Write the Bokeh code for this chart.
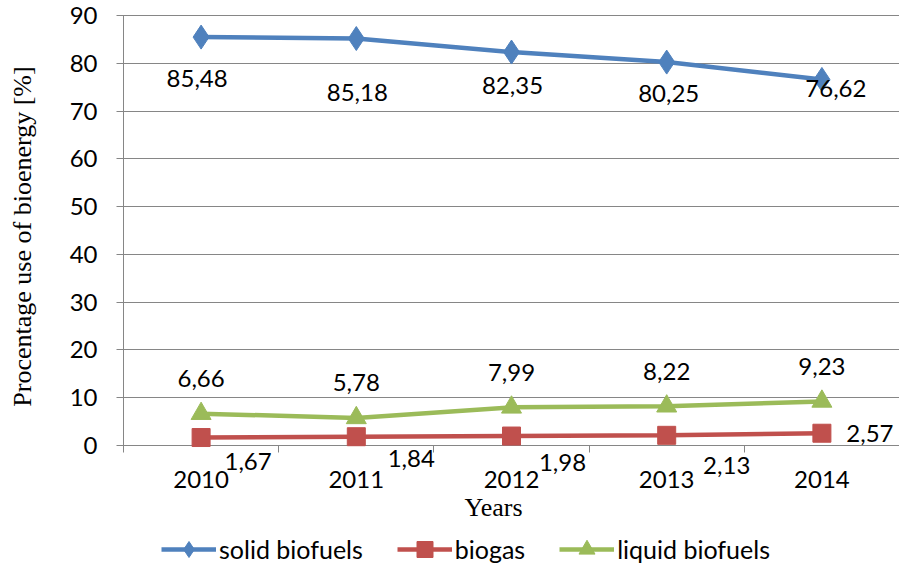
import math
from bokeh.plotting import figure
from bokeh.models import (Range1d, FixedTicker, Legend, LegendItem, ColumnDataSource, Label)
from bokeh.embed import file_html
from bokeh.resources import INLINE
from bokeh.core.properties import value

years = ["2010", "2011", "2012", "2013", "2014"]
solid = [85.48, 85.18, 82.35, 80.25, 76.62]
biogas = [1.67, 1.84, 1.98, 2.13, 2.57]
liquid = [6.66, 5.78, 7.99, 8.22, 9.23]
y_ticks = list(range(0, 91, 10))

def fmt(v):
    return f"{v:.2f}".replace(".", ",")

xs = list(range(len(years)))

BLUE = "#4F81BD"
RED = "#C0504D"
GREY = "#868686"
GREEN = "#9BBB59"
SANS = "Lato"
SERIF = "Liberation Serif"

# layout (pixels): the plotting frame covers the whole canvas; the value axes
# are pinned at the category/value origin so that titles and legend fit around them
W, H = 899, 566
LEFT, TOP, AXIS_PX, RIGHT = 123, 15, 445, 899
X0, X1 = -0.5, len(years) - 0.5
Y0, Y1 = 0, 90
px_per_x = (RIGHT - LEFT) / (X1 - X0)
px_per_y = (AXIS_PX - TOP) / (Y1 - Y0)
x_start = X0 - LEFT / px_per_x
x_end = X1 + (W - RIGHT) / px_per_x
y_start = Y0 - (H - AXIS_PX) / px_per_y
y_end = Y1 + TOP / px_per_y

p = figure(width=W, height=H, output_backend="svg", toolbar_location=None,
           x_range=Range1d(x_start, x_end), y_range=Range1d(y_start, y_end),
           min_border_left=0, min_border_top=0, min_border_right=0,
           min_border_bottom=0)
p.outline_line_color = None
p.background_fill_color = "white"
p.border_fill_color = "white"
p.grid.grid_line_color = None

# y axis (its inward ticks act as the horizontal gridlines)
p.yaxis.fixed_location = X0
p.yaxis.level = "underlay"
p.yaxis.ticker = FixedTicker(ticks=y_ticks)
p.yaxis.bounds = (Y0, Y1)
p.yaxis.axis_line_color = GREY
p.yaxis.major_tick_line_color = GREY
p.yaxis.major_tick_out = 7
p.yaxis.major_tick_in = RIGHT - LEFT
p.yaxis.minor_tick_line_color = None
p.yaxis.major_label_text_font = SANS
p.yaxis.major_label_text_font_size = "24px"
p.yaxis.major_label_text_color = "black"
p.yaxis.major_label_standoff = 19

# x axis (ticks between the categories)
p.xaxis.fixed_location = Y0
p.xaxis.level = "underlay"
p.xaxis.bounds = (X0, X1)
p.xaxis.ticker = FixedTicker(ticks=xs, minor_ticks=[i - 0.5 for i in range(len(years) + 1)])
p.xaxis.major_label_overrides = {i: y for i, y in enumerate(years)}
p.xaxis.axis_line_color = GREY
p.xaxis.major_tick_line_color = None
p.xaxis.major_tick_out = 0
p.xaxis.major_tick_in = 0
p.xaxis.minor_tick_line_color = GREY
p.xaxis.minor_tick_out = 7
p.xaxis.minor_tick_in = 0
p.xaxis.major_label_text_font = SANS
p.xaxis.major_label_text_font_size = "24px"
p.xaxis.major_label_text_color = "black"
p.xaxis.major_label_standoff = 18

# axis titles
p.add_layout(Label(x=22, y=H - 236, x_units="screen", y_units="screen",
                   text="Procentage use of bioenergy [%]", angle=math.pi / 2,
                   text_font=SERIF, text_font_size="26px", text_color="black",
                   text_align="center", text_baseline="middle"))
p.add_layout(Label(x=493, y=H - 507, x_units="screen", y_units="screen",
                   text="Years", text_font=SERIF, text_font_size="26px",
                   text_color="black", text_align="center", text_baseline="middle"))

# series
l1 = p.line(xs, solid, line_color=BLUE, line_width=4.5)
m1 = p.scatter(xs, solid, marker="diamond", size=24, fill_color=BLUE, line_color=BLUE)
l2 = p.line(xs, biogas, line_color=RED, line_width=4.5)
m2 = p.scatter(xs, biogas, marker="square", size=18, fill_color=RED, line_color=RED)
l3 = p.line(xs, liquid, line_color=GREEN, line_width=4.5)
m3 = p.scatter(xs, liquid, marker="triangle", size=20, fill_color=GREEN, line_color=GREEN)

# data labels (label placement offsets, in pixels)
solid_dx = [-4, 1, 1, 2, 14]
solid_dy = [41, 54, 33, 31, 9]
bio_dx = [47, 55, 51, 60, 48]
bio_dy = [24, 22, 26, 30, 0]

s_src = ColumnDataSource(dict(x=xs, y=solid, t=[fmt(v) for v in solid], dx=solid_dx, dy=solid_dy))
b_src = ColumnDataSource(dict(x=xs, y=biogas, t=[fmt(v) for v in biogas], dx=bio_dx, dy=bio_dy))
q_src = ColumnDataSource(dict(x=xs, y=liquid, t=[fmt(v) for v in liquid]))

common = dict(text_font=value(SANS), text_font_size="24px", text_color="black",
              text_align="center", text_baseline="middle")
p.text(x="x", y="y", text="t", x_offset="dx", y_offset="dy", source=s_src, **common)
p.text(x="x", y="y", text="t", x_offset="dx", y_offset="dy", source=b_src, **common)
p.text(x="x", y="y", text="t", y_offset=-35, source=q_src, **common)

legend = Legend(items=[
    LegendItem(label="solid biofuels", renderers=[l1, m1]),
    LegendItem(label="biogas", renderers=[l2, m2]),
    LegendItem(label="liquid biofuels", renderers=[l3, m3]),
], orientation="horizontal", location=(161, -3))
legend.border_line_color = None
legend.background_fill_alpha = 0
legend.padding = 0
legend.margin = 0
legend.spacing = 34
legend.glyph_width = 55
legend.glyph_height = 40
legend.label_standoff = 3
legend.label_text_font = SANS
legend.label_text_font_size = "25px"
legend.label_text_color = "black"
legend.label_height = 40
p.add_layout(legend, "center")

open("out.html", "w").write(file_html(p, INLINE))
